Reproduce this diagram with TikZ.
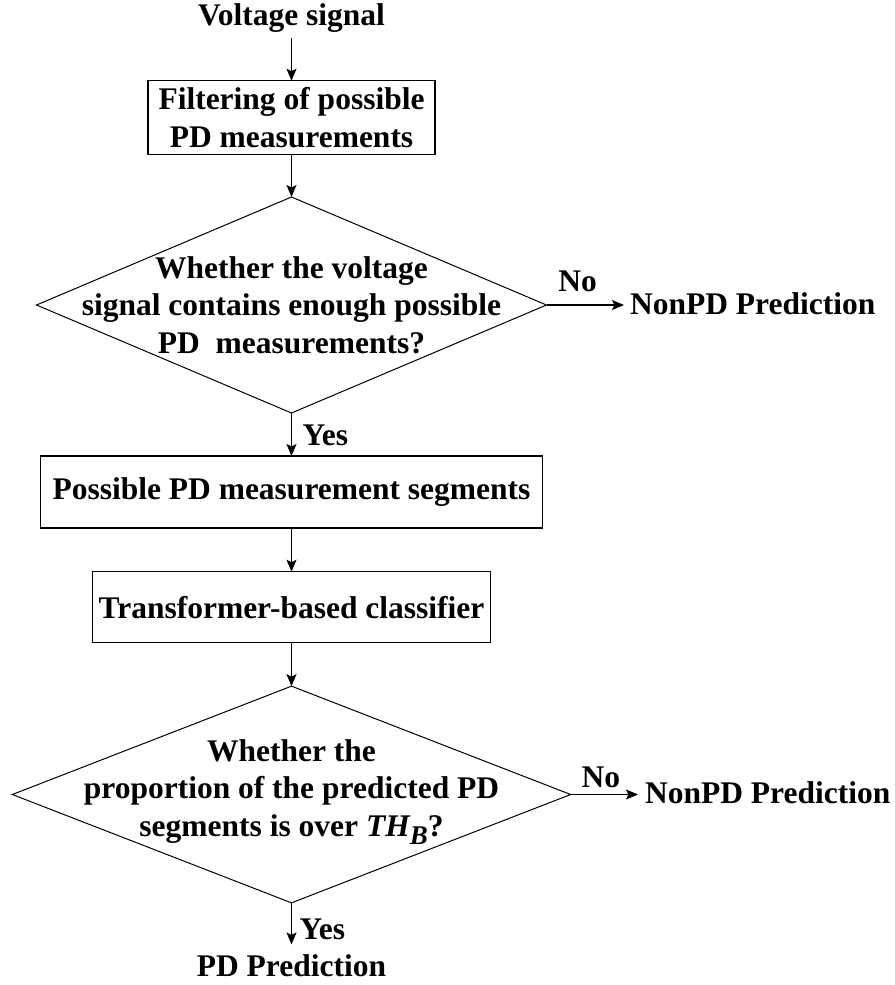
\documentclass[tikz,border=0pt]{standalone}
\usepackage{fontspec}
\setmainfont{Liberation Serif}
\usetikzlibrary{shapes.geometric,arrows.meta}
\begin{document}
\begin{tikzpicture}[x=1pt,y=-1pt,
  every node/.style={font=\fontsize{31.5}{37.5}\selectfont\bfseries, inner sep=0pt, outer sep=0pt},
  procbox/.style={draw, line width=1.1pt, rectangle, align=center},
  decision/.style={draw, line width=1pt, diamond, inner sep=0pt},
  dtext/.style={align=center},
  arr/.style={line width=1.2pt, -{Stealth[length=12pt,width=10pt,inset=2.5pt]}},
  lbl/.style={}
]
\useasboundingbox (0,0) rectangle (894,985);

\node[anchor=base] (vs) at (291.5,25) {Voltage signal};
\node[procbox, minimum width=287pt, minimum height=73.3pt] (b1) at (291.5,117.4)
  {Filtering of possible\\PD measurements};
\node[decision, minimum width=510pt, minimum height=216pt] (d1) at (291.5,305) {};
\node[dtext] (t1) at (d1.center) {Whether the voltage\\signal contains enough possible\\PD\ \ measurements?};
\node[anchor=base west] (np1) at (630,314) {NonPD Prediction};

\node[procbox, minimum width=502pt, minimum height=72pt] (b2) at (291.5,492)
  {Possible PD measurement segments};
\node[procbox, minimum width=397.4pt, minimum height=71pt] (b3) at (291.5,607.2)
  {Transformer-based classifier};
\node[decision, minimum width=558.3pt, minimum height=216.7pt] (d2) at (291.5,794.5) {};
\node[dtext, yshift=2.5pt] (t2) at (d2.center) {Whether the\\proportion of the predicted PD\\segments is over {\itshape TH\raisebox{-8pt}{\fontsize{27}{27}\selectfont B}}?};
\node[anchor=base west] (np2) at (645,803) {NonPD Prediction};
\node[anchor=base] (pd) at (291.5,976) {PD Prediction};

\draw[arr, shorten <=6pt] (vs.south) -- (b1.north);
\draw[arr] (b1.south) -- (d1.north);
\draw[arr] (d1.east) -- ([xshift=-6pt]d1.east -| np1.west)
  node[lbl, pos=0.4, anchor=south, yshift=13pt] (no1) {No};
\draw[arr] (d1.south) -- (b2.north)
  node[lbl, midway, anchor=west, xshift=11pt, yshift=-1pt] (yes1) {Yes};
\draw[arr] (b2.south) -- (b3.north);
\draw[arr] (b3.south) -- (d2.north);
\draw[arr] (d2.east) -- ([xshift=-7pt]d2.east -| np2.west)
  node[lbl, pos=0.45, anchor=south, yshift=7pt] (no2) {No};
\draw[arr, shorten >=9.7pt] (d2.south) -- (pd.north)
  node[lbl, midway, anchor=west, xshift=8pt, yshift=-1pt] (yes2) {Yes};
\end{tikzpicture}
\end{document}
